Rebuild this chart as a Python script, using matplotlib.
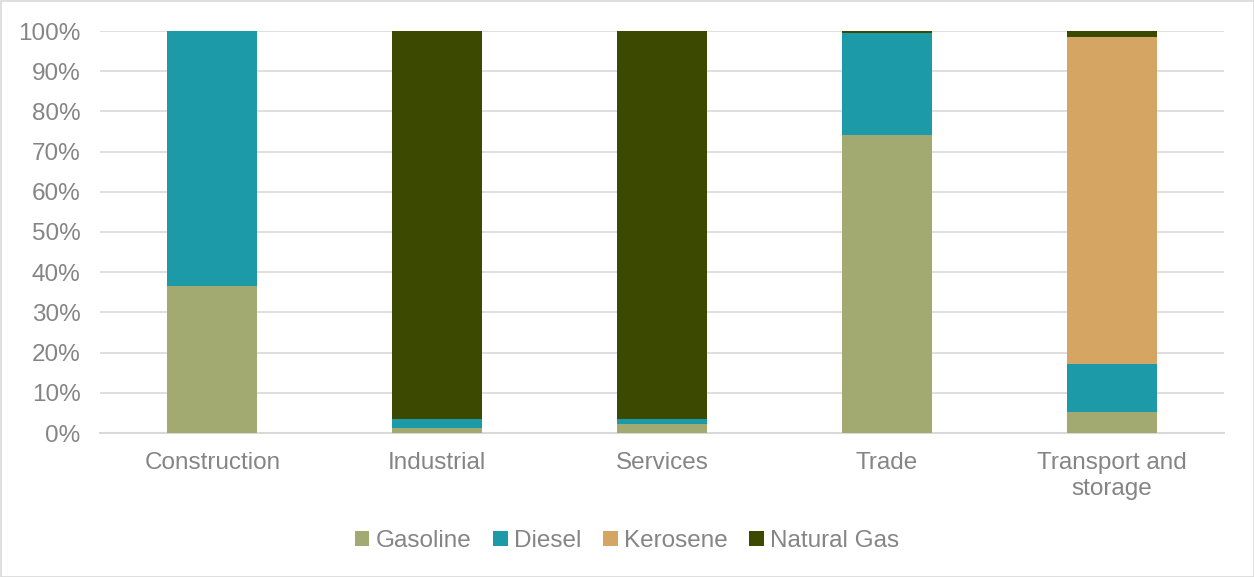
import matplotlib
matplotlib.use("Agg")
import matplotlib.pyplot as plt
import numpy as np
from matplotlib.patches import Rectangle

categories = ["Construction", "Industrial", "Services", "Trade", "Transport and\nstorage"]
gasoline = [36.5, 1.2, 2.2, 74.1, 5.1]
diesel = [63.5, 2.2, 1.4, 25.3, 12.0]
kerosene = [0.0, 0.0, 0.0, 0.0, 81.5]
natural_gas = [0.0, 96.6, 96.4, 0.6, 1.4]
series_names = ["Gasoline", "Diesel", "Kerosene", "Natural Gas"]
colors = ["#A2AA72", "#1D9AA8", "#D5A564", "#3B4A00"]

plt.rcParams['font.family'] = ['Liberation Sans', 'DejaVu Sans']
text_color = "#858585"
fs = 17.5

fig = plt.figure(figsize=(12.54, 5.77), dpi=100)
ax = fig.add_axes([100/1254, 1-433/577, 1124/1254, (433-31)/577])

x = np.arange(len(categories))
bottom = np.zeros(len(categories))
for name, vals, c in zip(series_names, [gasoline, diesel, kerosene, natural_gas], colors):
    ax.bar(x, vals, bottom=bottom, width=0.4, color=c, label=name, zorder=3)
    bottom += np.array(vals)

ax.set_xlim(-0.5, len(categories) - 0.5)
ax.set_ylim(0, 100)
ax.set_yticks(np.arange(0, 101, 10))
ax.set_yticklabels([f"{v}%" for v in range(0, 101, 10)])
ax.set_xticks(x)
ax.set_xticklabels(categories, linespacing=1.25)
ax.yaxis.grid(True, color="#D9D9D9", linewidth=1.2, zorder=0)
ax.set_axisbelow(True)
for s in ["top", "right", "left"]:
    ax.spines[s].set_visible(False)
ax.spines["bottom"].set_color("#D9D9D9")
ax.spines["bottom"].set_linewidth(1.5)
ax.tick_params(axis="both", length=0, labelsize=fs, labelcolor=text_color)
ax.tick_params(axis="y", pad=14)
ax.tick_params(axis="x", pad=13.5)

leg = fig.legend(loc="center", bbox_to_anchor=(0.5, 1-541/577), ncol=4, frameon=False,
                 fontsize=fs, handlelength=0.6, handleheight=0.6, handletextpad=0.25,
                 columnspacing=0.9)
for t in leg.get_texts():
    t.set_color(text_color)

fig.patches.append(Rectangle((0.5/1254, 0.5/577), 1-1/1254, 1-1/577, transform=fig.transFigure,
                             fill=False, edgecolor="#D9D9D9", linewidth=1.2))

fig.savefig("out.png", dpi=100)
